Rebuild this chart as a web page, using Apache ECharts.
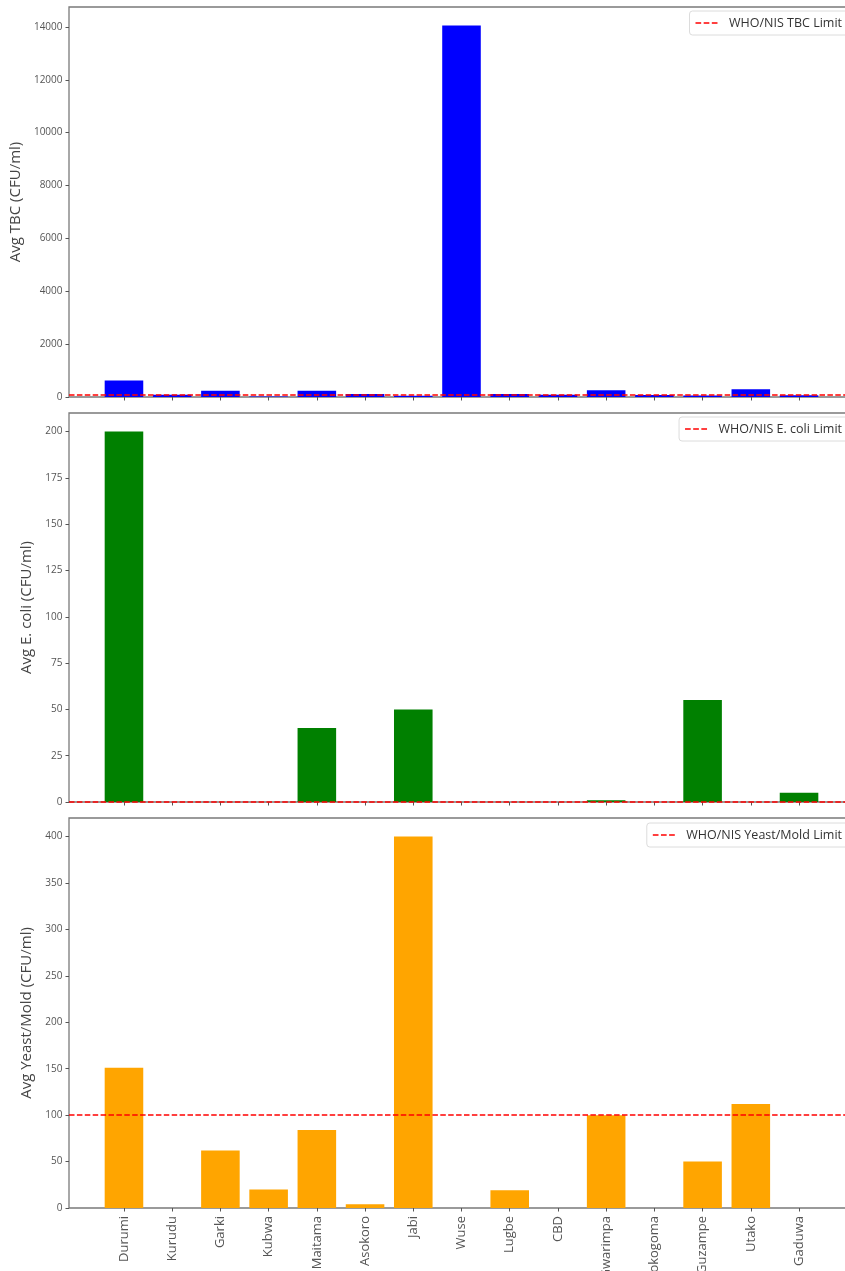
<!DOCTYPE html>
<html>
<head>
<meta charset="utf-8">
<script src="https://cdn.jsdelivr.net/npm/echarts@6/dist/echarts.min.js"></script>
<style>
  html, body { margin: 0; padding: 0; background: #fff; }
  #chart { width: 845px; height: 1271px; }
</style>
</head>
<body>
<div id="chart"></div>
<script>
// ---- data ----
const categories = ['Durumi', 'Kurudu', 'Garki', 'Kubwa', 'Maitama', 'Asokoro', 'Jabi', 'Wuse',
                    'Lugbe', 'CBD', 'Gwarimpa', 'Lokogoma', 'Guzampe', 'Utako', 'Gaduwa'];
const tbcValues   = [620, 85, 240, 15, 240, 110, 50, 14050, 110, 85, 255, 75, 55, 290, 70];
const ecoliValues = [200, 0, 0, 0, 40, 0, 50, 0, 0, 0, 1, 0, 55, 0, 5];
const yeastValues = [151, 0, 62, 20, 84, 4, 400, 0, 19, 0, 100, 0, 50, 112, 0];
const tbcLimit = 100;
const ecoliLimit = 0;
const yeastLimit = 100;
const tbcTicks   = [0, 2000, 4000, 6000, 8000, 10000, 12000, 14000];
const ecoliTicks = [0, 25, 50, 75, 100, 125, 150, 175, 200];
const yeastTicks = [0, 50, 100, 150, 200, 250, 300, 350, 400];
const tbcName = 'WHO/NIS TBC Limit';
const ecoliName = 'WHO/NIS E. coli Limit';
const yeastName = 'WHO/NIS Yeast/Mold Limit';

// ---- layout / styling ----
const catIdx = categories.map((_, i) => i);
const lo = -0.4, hi = categories.length - 1 + 0.4;
const pad = 0.05 * (hi - lo);
const xMin = lo - pad, xMax = hi + pad;

const gridLeft = 69, gridRight = -9;
const plotWidth = 845 - gridLeft - gridRight;
const barW = 0.8 * plotWidth / (xMax - xMin);

const tickFont = { fontFamily: 'Open Sans', fontSize: 10, color: '#555' };
const titleFont = { fontFamily: 'Open Sans', fontSize: 15, color: '#444' };
const dashIcon = 'path://M0,0h5.55v1.5h-5.55z M7.95,0h5.55v1.5h-5.55z M15.9,0h5.55v1.5h-5.55z';

const panels = [
  { values: tbcValues, limit: tbcLimit, ticks: tbcTicks, name: tbcName, color: '#0000ff',
    title: 'Avg TBC (CFU/ml)', top: 7, height: 390, nameGap: 40, legendTop: 11 },
  { values: ecoliValues, limit: ecoliLimit, ticks: ecoliTicks, name: ecoliName, color: '#008000',
    title: 'Avg E. coli (CFU/ml)', top: 413, height: 389, nameGap: 22, legendTop: 417 },
  { values: yeastValues, limit: yeastLimit, ticks: yeastTicks, name: yeastName, color: '#ffa500',
    title: 'Avg Yeast/Mold (CFU/ml)', top: 818, height: 390, nameGap: 22, legendTop: 823 }
];

const grid = [], xAxis = [], yAxis = [], series = [], legend = [];
panels.forEach((p, k) => {
  grid.push({
    left: gridLeft, right: gridRight, top: p.top, height: p.height,
    outerBoundsMode: 'none', containLabel: false,
    show: true, borderColor: '#7a7a7a', borderWidth: 1.3, backgroundColor: '#fff'
  });
  xAxis.push({
    type: 'value', gridIndex: k, min: xMin, max: xMax,
    splitLine: { show: false },
    axisLine: { show: false, onZero: false },
    axisTick: { show: true, customValues: catIdx, length: 3.5, lineStyle: { color: '#555', width: 1 } },
    axisLabel: Object.assign({
      show: k === 2, customValues: catIdx, rotate: 90, margin: 8,
      formatter: v => categories[Math.round(v)] || ''
    }, tickFont, { fontSize: 13 })
  });
  const dataMax = Math.max(...p.values, p.limit);
  yAxis.push({
    type: 'value', gridIndex: k, min: 0, max: dataMax * 1.05,
    name: p.title, nameLocation: 'middle', nameRotate: 90, nameGap: p.nameGap,
    nameTextStyle: titleFont,
    splitLine: { show: false },
    axisLine: { show: false, onZero: false },
    axisTick: { show: true, customValues: p.ticks, length: 3.5, lineStyle: { color: '#555', width: 1 } },
    axisLabel: Object.assign({ customValues: p.ticks, margin: 6.5, formatter: v => String(v) }, tickFont)
  });
  series.push({
    type: 'bar', xAxisIndex: k, yAxisIndex: k, barWidth: barW,
    itemStyle: { color: p.color },
    data: p.values.map((v, i) => [i, v]),
    z: 2, silent: true
  });
  series.push({
    type: 'line', name: p.name, xAxisIndex: k, yAxisIndex: k, data: [],
    symbol: 'none',
    lineStyle: { color: '#ff0000', type: [5.5, 2.4], width: 1.5 },
    itemStyle: { color: '#ff0000' },
    z: 5,
    markLine: {
      silent: true, symbol: 'none', animation: false,
      label: { show: false },
      lineStyle: { color: '#ff0000', type: [5.5, 2.4], width: 1.5 },
      data: [{ yAxis: p.limit }]
    }
  });
  legend.push({
    data: [{ name: p.name, icon: dashIcon }], right: -3, top: p.legendTop, orient: 'horizontal',
    itemWidth: 22, itemHeight: 1.6, padding: [5, 6, 5, 6],
    itemStyle: { color: '#ff0000', borderWidth: 0 },
    lineStyle: { width: 0 },
    backgroundColor: 'rgba(255,255,255,0.8)', borderColor: '#dcdcdc', borderWidth: 1, borderRadius: 3,
    formatter: '  {name}',
    textStyle: { fontFamily: 'Open Sans', fontSize: 12.5, color: '#333', lineHeight: 14 },
    selectedMode: false
  });
});

const chart = echarts.init(document.getElementById('chart'), null, { renderer: 'canvas' });
chart.setOption({
  animation: false,
  backgroundColor: '#fff',
  grid, xAxis, yAxis, series, legend
});
</script>
</body>
</html>
